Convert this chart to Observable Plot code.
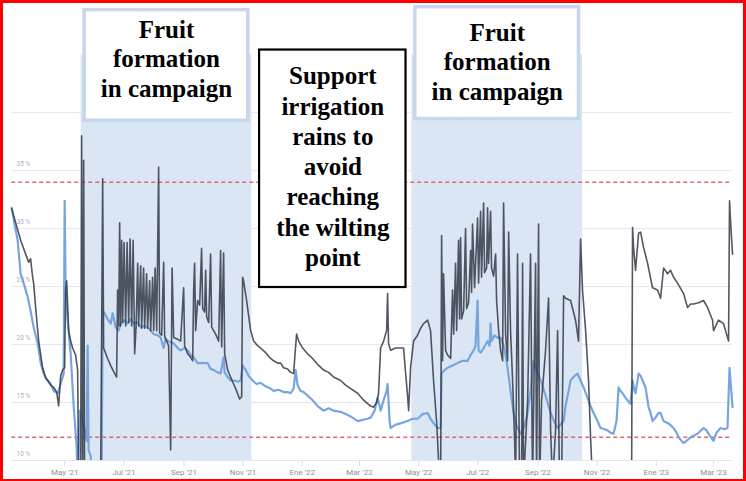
<!DOCTYPE html>
<html>
<head>
<meta charset="utf-8">
<script src="https://cdn.jsdelivr.net/npm/d3@7"></script>
<script src="https://cdn.jsdelivr.net/npm/@observablehq/plot@0.6"></script>
<style>
  html, body { margin: 0; padding: 0; background: #fff; }
  #wrap { position: relative; width: 746px; height: 481px; overflow: hidden; }
  #frame { position: absolute; left: 0; top: 0; right: 0; bottom: 0; border: 3px solid #ff0000; border-bottom-width: 2px; pointer-events: none; box-sizing: border-box; }
</style>
</head>
<body>
<div id="wrap"><div id="chart"></div><div id="frame"></div></div>
<script>
// ---- Data (days counted from 2021-05-01) ----
const baseDate = "2021-05-01";

const darkDays = [-54.6,-50.5,-45.4,-40.2,-37.1,-35.1,-33.0,-32.0,-29.9,-26.8,
-22.7,-19.6,-17.5,-14.4,-11.3,-8.2,-6.2,-4.1,-2.1,0,
1.0,2.1,4.1,6.2,8.2,11.3,13.4,14.4,16.5,17.5,
18.6,19.6,20.6,37.1,39.2,40.2,44.3,47.4,51.6,53.6,
54.6,55.7,56.7,57.7,58.8,59.8,61.3,62.9,64.4,66.0,
67.5,69.1,70.6,72.2,73.7,75.3,76.3,78.4,79.4,81.4,
82.5,84.5,85.6,87.6,88.7,90.7,91.8,93.3,94.9,96.9,
97.9,100.0,102.1,103.1,105.2,107.2,109.3,110.8,112.4,115.5,
117.5,119.6,122.7,123.7,126.8,129.9,132.0,133.0,134.0,135.1,
137.1,139.2,141.2,142.3,144.3,145.4,146.4,148.5,150.5,151.6,
153.6,155.7,158.8,160.8,161.9,163.9,165.0,168.1,171.1,174.2,
177.3,180.4,182.5,183.5,184.5,187.6,191.8,194.9,199.0,202.1,
207.2,212.4,215.5,219.6,222.7,225.8,229.9,233.0,236.1,238.2,
239.2,241.3,245.4,250.5,255.7,261.9,267.0,272.2,277.3,284.6,
289.7,294.9,302.1,307.2,312.4,315.5,318.6,321.7,323.7,325.8,
328.9,332.0,333.0,334.0,336.1,341.3,346.4,349.5,351.6,353.6,
354.7,356.7,359.8,363.9,367.0,370.1,374.3,377.3,380.4,383.5,
385.6,386.6,387.7,388.7,389.7,390.7,392.8,394.9,398.0,400.0,
401.1,403.1,404.2,406.2,407.2,408.3,409.3,411.4,413.4,414.5,
416.5,418.6,419.6,420.6,422.7,425.8,426.8,428.9,429.9,432.0,
433.0,435.1,436.1,437.1,439.2,440.2,442.3,444.4,445.4,447.5,
449.5,451.6,452.6,454.7,456.7,457.8,459.8,461.9,464.0,465.0,
467.0,469.1,471.2,472.2,473.2,477.4,480.4,482.5,485.6,486.6,
488.7,489.7,491.8,495.9,499.0,501.1,503.1,506.2,508.3,510.3,
512.4,514.5,516.5,521.7,526.8,529.9,532.0,534.0,537.2,540.2,
542.3,544.4,584.6,585.6,586.6,588.7,591.8,593.9,596.9,601.1,
606.2,611.4,614.5,617.6,621.7,624.8,627.9,632.0,638.2,642.3,
645.4,648.5,653.7,658.8,662.9,668.1,669.1,674.3,679.4,682.5,
684.6,685.6,686.6,688.7];

const darkValues = [31.7,30.5,29.0,27.8,27.1,27.4,25.8,25.3,23.2,20.3,
18.0,17.1,16.9,16.5,16.3,15.9,14.7,17.3,17.8,18.0,
24.7,25.5,21.2,20.3,19.7,19.1,17.8,8,8,38.0,
8,35.9,8,8,34.3,19.7,18.8,18.2,17.5,17.2,
24.7,21.6,30.5,21.6,29.0,21.9,28.8,21.6,28.8,21.9,
29.1,21.6,29.0,19.2,21.6,27.0,21.6,26.8,21.4,26.6,
21.4,26.1,21.4,25.5,21.2,25.8,21.2,26.6,21.2,35.3,
21.0,20.8,27.1,20.7,20.3,19.9,10.9,26.6,20.6,20.5,
20.4,20.3,24.9,19.9,19.2,18.9,18.6,24.7,27.0,21.2,
23.8,23.4,28.3,23.1,22.8,26.4,22.4,21.9,27.8,21.5,
21.2,20.9,20.3,28.1,19.8,27.9,19.2,17.8,17.2,16.6,
16.0,15.3,15.5,25.8,25.5,23.8,21.2,20.3,19.9,19.7,
19.3,18.8,18.6,18.4,18.4,18.0,17.9,17.6,17.5,19.9,
20.9,20.3,19.7,19.2,18.8,18.2,17.8,17.6,17.2,16.9,
16.5,16.2,15.8,15.3,14.9,14.7,14.6,15.0,15.8,19.7,
20.3,21.2,24.4,20.1,19.5,19.7,19.7,19.7,17.5,15.6,
14.3,18.0,20.3,20.8,21.4,21.8,22.1,21.2,16.9,13.4,
10.0,8,8,29.4,18.6,26.1,19.5,19.1,18.8,24.7,
20.9,27.0,21.2,29.0,22.2,29.2,22.2,22.9,30.0,23.1,
23.6,28.1,24.5,30.4,24.9,30.9,25.3,31.5,25.8,32.2,
26.2,26.6,31.8,27.0,31.5,26.6,25.9,27.8,23.8,21.2,
19.5,18.6,32.2,20.9,18.6,29.7,21.2,16.9,11.7,8,
27.8,8,8,27.0,8,15.2,27.8,8,27.0,8,
30.4,8,15.2,19.5,24.0,12.6,8,12.6,21.2,8,
8,24.2,24.0,23.8,22.1,20.3,29.1,24.7,21.2,16.9,
12.0,8,8,30.1,28.4,26.4,29.6,29.7,28.4,27.0,
24.9,24.7,24.0,26.6,26.1,26.4,25.8,25.3,24.4,23.2,
23.5,23.5,23.6,23.8,23.2,22.1,21.2,22.1,21.8,20.9,
20.3,32.4,30.7,27.8];

const blueDays = [-54.6,-51.5,-48.5,-45.4,-42.3,-38.1,-35.1,-32.0,-29.9,-27.8,
-24.7,-21.7,-17.5,-14.4,-11.3,-7.2,-4.1,-1.0,0,1.0,
3.1,6.2,9.3,12.4,13.4,15.5,19.6,22.7,23.7,24.7,
26.8,28.9,38.1,39.2,41.2,44.3,47.4,49.5,52.6,55.7,
57.7,61.9,65.0,68.0,71.1,75.3,78.4,82.5,85.6,88.7,
91.8,95.9,99.0,102.1,104.1,106.2,109.3,112.4,116.5,119.6,
123.7,126.8,129.9,133.0,137.1,140.2,144.3,147.4,150.5,153.6,
157.7,160.8,163.9,165.0,168.1,171.1,174.2,178.4,181.5,183.5,
186.6,189.7,193.8,198.0,202.1,207.2,212.4,215.5,220.6,225.8,
229.9,233.0,236.1,238.2,240.2,243.3,246.4,250.5,255.7,260.8,
267.0,272.2,277.3,284.6,289.7,294.9,302.1,307.2,312.4,315.5,
319.6,322.7,324.8,325.8,328.9,332.0,333.0,335.1,336.1,341.3,
346.4,353.6,358.8,363.9,369.1,374.3,377.3,381.5,384.6,387.7,
388.7,391.8,394.9,400.0,405.2,410.3,415.5,418.6,421.7,423.7,
425.8,426.8,428.9,432.0,434.1,436.1,438.2,439.2,440.2,443.3,
446.4,449.5,452.6,454.7,456.7,459.8,462.9,466.0,470.1,474.3,
477.4,480.4,483.5,486.6,490.8,495.9,501.1,505.2,508.3,511.4,
514.5,516.5,519.6,521.7,525.8,528.9,532.0,535.1,539.2,542.3,
545.4,549.5,552.6,556.7,559.8,562.9,566.0,569.1,571.2,573.2,
575.3,578.4,580.4,583.5,585.6,587.7,588.7,591.8,593.9,595.9,
599.0,602.1,604.2,606.2,609.3,612.4,614.5,617.6,622.7,627.9,
631.0,633.0,638.2,641.3,645.4,652.6,658.8,661.9,664.0,669.1,
672.2,676.3,680.4,683.5,685.6,686.6,688.7];

const blueValues = [31.8,30.3,29.0,26.1,25.3,24.1,22.9,21.5,20.8,20.1,
18.4,17.5,16.9,16.6,16.0,15.8,16.6,17.5,32.4,24.7,
22.1,19.2,14.7,11.1,8,14.3,13.0,11.7,19.9,10.9,
10.4,8,8,22.9,22.7,22.2,21.8,22.7,21.5,21.2,
21.8,22.1,21.8,22.2,21.8,21.9,21.5,21.6,21.5,21.2,
20.9,20.8,20.6,19.7,20.5,20.3,20.2,20.1,19.7,19.5,
19.7,19.5,19.1,18.9,18.4,18.4,18.4,18.4,17.9,17.8,
17.6,17.5,18.9,17.6,17.2,16.9,16.9,16.8,16.9,18.2,
17.8,17.3,16.9,16.6,16.7,16.4,16.2,16.0,16.1,15.9,
15.9,15.8,16.2,17.8,16.5,16.0,15.9,15.6,15.2,14.7,
14.3,14.5,14.3,14.2,14.0,13.8,13.4,13.5,13.6,13.7,
14.3,15.4,14.7,14.3,15.2,16.0,16.6,13.4,12.8,13.1,
13.2,13.4,13.6,13.6,14.0,14.1,13.6,13.1,12.8,12.8,
17.5,17.8,18.0,18.2,18.4,18.6,18.6,19.1,19.5,19.9,
23.8,19.5,19.3,19.7,20.0,20.3,19.9,21.8,20.3,20.8,
20.6,20.6,19.9,19.1,18.0,16.0,14.1,13.0,12.3,13.0,
14.1,16.0,18.6,17.8,16.9,15.6,14.1,13.3,12.8,13.1,
13.4,14.7,16.0,16.9,17.3,17.5,16.9,16.3,15.4,14.7,
14.1,13.4,12.8,12.7,12.6,12.4,12.3,13.4,16.3,16.0,
15.8,15.4,15.2,14.9,16.9,16.0,15.8,17.5,17.3,16.9,
16.3,14.6,14.1,13.4,13.7,14.1,14.1,13.4,13.2,12.8,
12.4,12.0,11.5,11.7,12.0,12.3,12.8,12.6,12.3,11.7,
12.4,12.8,12.7,12.8,18.0,16.9,14.6];

// reference thresholds (red dashed)
const thresholds = [34, 12];

// y grid and labelled ticks
const yGrid = [10, 15, 20, 25, 30, 35, 40];
const yTicks = [10, 15, 20, 25, 30, 35];

// x ticks
const xTickDates = ["2021-05-01","2021-07-01","2021-09-01","2021-11-01","2022-01-01","2022-03-01",
                    "2022-05-01","2022-07-01","2022-09-01","2022-11-01","2023-01-01","2023-03-01"];
const xTickLabels = ["May '21","Jul '21","Sep '21","Nov '21","Ene '22","Mar '22",
                     "May '22","Jul '22","Sep '22","Nov '22","Ene '23","Mar '23"];

// shaded periods
const bandStart = ["2021-05-18", "2022-04-24"];
const bandEnd   = ["2021-11-10", "2022-10-17"];
const bandLabel = ["Fruit\nformation\nin campaign", "Fruit\nformation\nin campaign"];

// central note
const noteStart = "2021-11-18";
const noteEnd = "2022-04-18";
const noteText = "Support\nirrigation\nrains to\navoid\nreaching\nthe wilting\npoint";

// ---- Build ----
const base = Date.UTC(2021, 4, 1);
const toDate = d => new Date(base + d * 864e5);
const dark = darkDays.map((d, i) => ({date: toDate(d), value: darkValues[i]}));
const blue = blueDays.map((d, i) => ({date: toDate(d), value: blueValues[i]}));
const extent = d3.extent(dark.concat(blue), d => d.date);
const bands = bandStart.map((s, i) => ({
  start: new Date(s), end: new Date(bandEnd[i]), label: bandLabel[i],
  mid: new Date((+new Date(s) + +new Date(bandEnd[i])) / 2),
  boxTop: [48.85, 49.1][i], boxBottom: [39.3, 39.45][i], textTop: [48.25, 48.0][i]
}));
const note = [{start: new Date(noteStart), end: new Date(noteEnd), text: noteText,
  mid: new Date((+new Date(noteStart) + +new Date(noteEnd)) / 2)}];
const labelOf = new Map(xTickDates.map((d, i) => [+new Date(d), xTickLabels[i]]));

const serif = "'Liberation Serif', 'Times New Roman', serif";

const chart = Plot.plot({
  width: 746,
  height: 481,
  marginLeft: 5,
  marginRight: 3,
  marginTop: 2,
  marginBottom: 21,
  style: {background: "#fff"},
  x: {type: "utc", domain: [new Date("2021-03-01"), new Date("2023-04-01")]},
  y: {domain: [10, 49.5], axis: null},
  marks: [
    Plot.rect(bands, {x1: "start", x2: "end", y1: 10, y2: 45, fill: "#dbe6f5"}),
    Plot.ruleY(yGrid, {x1: extent[0], x2: extent[1], stroke: "#e4e6ea", strokeWidth: 1}),
    Plot.text(yTicks, {y: d => d, text: d => `${d} %`, frameAnchor: "left", dx: 11, dy: -7,
      textAnchor: "start", fontSize: 6.5, fill: "#a7b1c4", fontFamily: "Roboto, sans-serif"}),
    Plot.ruleY(thresholds, {x1: extent[0], x2: extent[1], stroke: "#e06a6a", strokeWidth: 1.4, strokeDasharray: "4,3"}),
    Plot.lineY(blue, {x: "date", y: "value", stroke: "#78a5dd", strokeWidth: 2.2, clip: true}),
    Plot.lineY(dark, {x: "date", y: "value", stroke: "#343a46", strokeOpacity: 0.85, strokeWidth: 1.6, clip: true}),
    Plot.axisX({ticks: xTickDates.map(d => new Date(d)), tickFormat: d => labelOf.get(+d),
      tickSize: 6, tickPadding: 3, stroke: "#e0e0e0", fill: "#8e8e8e", fontSize: 8,
      fontFamily: "Roboto, sans-serif"}),
    Plot.rect(bands, {x1: "start", x2: "end", y1: "boxBottom", y2: "boxTop", insetLeft: 3.5, insetRight: 3.5,
      fill: "#fff", stroke: "#c5d6ee", strokeWidth: 3.5}),
    Plot.text(bands, {x: "mid", y: "textTop", text: "label", lineAnchor: "top", lineHeight: 1.18,
      fontSize: 25, fontWeight: "bold", fontFamily: serif, fill: "#000"}),
    Plot.rect(note, {x1: "start", x2: "end", y1: 24.92, y2: 45.4, fill: "#fff", stroke: "#000", strokeWidth: 2.2}),
    Plot.text(note, {x: "mid", y: 44.3, text: "text", lineAnchor: "top", lineHeight: 1.21,
      fontSize: 25, fontWeight: "bold", fontFamily: serif, fill: "#000"})
  ]
});
document.getElementById("chart").appendChild(chart);
</script>
</body>
</html>
